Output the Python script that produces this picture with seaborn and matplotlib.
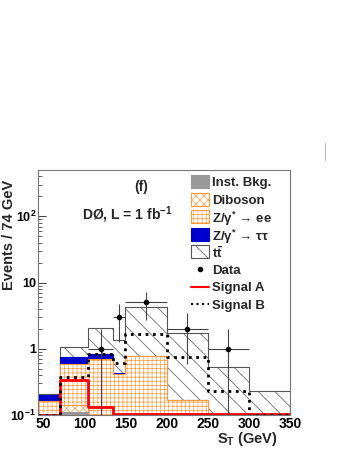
import numpy as np
import matplotlib
matplotlib.use("Agg")
import matplotlib.pyplot as plt
import seaborn as sns
from matplotlib.patches import Rectangle
from matplotlib.lines import Line2D
from matplotlib.ticker import MultipleLocator, LogLocator, NullFormatter, FixedLocator, FixedFormatter

# S_T bin edges (GeV)
edges = [44, 70, 105, 135, 150, 200, 250, 300, 350]

# background components (events per bin), stacked bottom -> top
inst_bkg = [0.05, 0.11, 0.06, 0.05, 0.04, 0.02, 0.01, 0.01]
diboson = [0.01, 0.03, 0.04, 0.03, 0.05, 0.03, 0.02, 0.02]
z_ee = [0.10, 0.45, 0.61, 0.33, 0.68, 0.12, 0.03, 0.01]
z_tautau = [0.04, 0.15, 0.12, 0.02, 0.01, 0.0, 0.0, 0.0]
ttbar = [0.005, 0.31, 1.23, 0.95, 3.42, 1.59, 0.47, 0.19]

# signal hypotheses (not stacked)
signal_a = [0.1, 0.34, 0.13, 0.105, 0.105, 0.105, 0.105, 0.105]
signal_b = [0.1, 0.37, 0.83, 0.6, 1.7, 0.75, 0.23, 0.1]

# observed events
data_counts = [0, 0, 1, 3, 5, 2, 1, 0]

legend_labels = ["Inst. Bkg.", "Diboson", r"Z/γ$^{*}$ → ee", r"Z/γ$^{*}$ → ττ",
                 r"$\mathrm{t\bar{t}}$", "Data", "Signal A", "Signal B"]

sns.set_style("ticks")
plt.rcParams["font.family"] = ["Liberation Sans", "DejaVu Sans"]
plt.rcParams["font.weight"] = "bold"
plt.rcParams["font.size"] = 10
plt.rcParams["mathtext.fontset"] = "custom"
plt.rcParams["mathtext.rm"] = "Liberation Sans:bold"
plt.rcParams["mathtext.bf"] = "Liberation Sans:bold"
plt.rcParams["mathtext.it"] = "Liberation Sans:bold:italic"
plt.rcParams["hatch.linewidth"] = 0.5

W, H = 349, 451
edges_arr = np.array(edges, dtype=float)
centers = 0.5 * (edges_arr[:-1] + edges_arr[1:])
half_w = 0.5 * np.diff(edges_arr)

fig = plt.figure(figsize=(3.49, 4.51), dpi=100)
ax = fig.add_axes([38.3 / W, 1 - 415 / H, (290 - 38.3) / W, (415 - 170) / H])

# cumulative stack
order = ["inst", "diboson", "zee", "ztt", "ttbar"]
vals = {"inst": inst_bkg, "diboson": diboson, "zee": z_ee, "ztt": z_tautau, "ttbar": ttbar}
cum = {}
running = np.zeros(len(centers))
for name in order:
    running = running + np.array(vals[name])
    cum[name] = running.copy()

# face, edge, hatch
styles = {
    "ttbar": ("white", "#555555", "\\\\"),
    "ztt": ("#0000cc", "#0000cc", None),
    "zee": ("white", "#ff9a3c", "++++"),
    "diboson": ("white", "#ff9a3c", "xxxx"),
    "inst": ("#999999", "#999999", None),
}
# drawn from the top layer down so lower layers cover upper ones
for name in reversed(order):
    face, edge, hatch = styles[name]
    sns.histplot(x=centers, weights=cum[name], bins=edges, element="step",
                 fill=True, alpha=1, ax=ax)
    coll = ax.collections[-1]
    coll.set_facecolor(face)
    coll.set_edgecolor(edge)
    coll.set_linewidth(0.8)
    if hatch:
        coll.set_hatch(hatch)

# signals
sns.histplot(x=centers, weights=signal_a, bins=edges, element="step", fill=False,
             color="#ff0000", linewidth=2, ax=ax)
sns.histplot(x=centers, weights=signal_b, bins=edges, element="step", fill=False,
             color="black", linewidth=2, linestyle=":", ax=ax)

# data
counts = np.array(data_counts, dtype=float)
m = counts > 0
ax.errorbar(centers[m], counts[m], xerr=half_w[m], yerr=np.sqrt(counts[m]),
            fmt="o", ms=3, color="black", ecolor="#444444", elinewidth=0.8,
            capsize=0, zorder=10)

ax.set_yscale("log")
ax.set_xlim(44, 350)
ax.set_ylim(0.1, 500)
ax.set_xlabel("")
ax.set_ylabel("")

ax.xaxis.set_major_locator(MultipleLocator(50))
ax.xaxis.set_minor_locator(MultipleLocator(10))
ax.yaxis.set_major_locator(FixedLocator([0.1, 1, 10, 100]))
ax.yaxis.set_major_formatter(FixedFormatter([r"10$^{-1}$", "1", "10", r"10$^{2}$"]))
ax.yaxis.set_minor_locator(LogLocator(base=10, subs=np.arange(2, 10)))
ax.yaxis.set_minor_formatter(NullFormatter())
ax.tick_params(which="both", direction="in", colors="#444444", labelcolor="black")
ax.tick_params(which="major", length=6, width=0.8)
ax.tick_params(which="minor", length=3, width=0.6)
ax.tick_params(axis="x", pad=1.5, labelsize=10)
ax.tick_params(axis="y", pad=1.5, labelsize=9)
for s in ax.spines.values():
    s.set_color("#777777")
    s.set_linewidth(0.8)

fig.text(9 / W, 1 - 180 / H, "Events / 74 GeV", rotation=90, ha="center",
         va="top", fontsize=10.5)
fig.text(278 / W, 1 - 439 / H, r"S$_{\mathrm{T}}$ (GeV)", ha="right",
         va="center", fontsize=10.5)
fig.text(141 / W, 1 - 187 / H, "(f)", ha="center", va="center", fontsize=10)
fig.text(82 / W, 1 - 215 / H, r"DØ, L = 1 fb$^{-1}$", ha="left", va="center",
         fontsize=10)

# legend, one row every 17.5 px
leg_keys = ["inst", "diboson", "zee", "ztt", "ttbar", "data", "siga", "sigb"]
for i, (key, text) in enumerate(zip(leg_keys, legend_labels)):
    yc = 1 - (181.7 + 17.5 * i) / H
    x0, x1 = 191 / W, 209 / W
    if key in styles:
        face, edge, hatch = styles[key]
        fig.add_artist(Rectangle((x0, yc - 6.5 / H), x1 - x0, 13 / H,
                                 facecolor=face, edgecolor=edge, hatch=hatch,
                                 lw=0.8, transform=fig.transFigure))
    elif key == "data":
        fig.add_artist(Line2D([(x0 + x1) / 2], [yc], marker="o", ms=3,
                              color="black", transform=fig.transFigure))
    elif key == "siga":
        fig.add_artist(Line2D([x0, x1], [yc, yc], color="#ff0000", lw=1.5,
                              transform=fig.transFigure))
    else:
        fig.add_artist(Line2D([x0, x1], [yc, yc], color="black", lw=1.5,
                              linestyle=":", transform=fig.transFigure))
    fig.text(212.5 / W, yc, text, ha="left", va="center_baseline", fontsize=9.5)

fig.add_artist(Line2D([325 / W, 325 / W], [1 - 143 / H, 1 - 160 / H],
                      color="#bbbbbb", lw=0.8))

fig.savefig("out.png", dpi=100)
